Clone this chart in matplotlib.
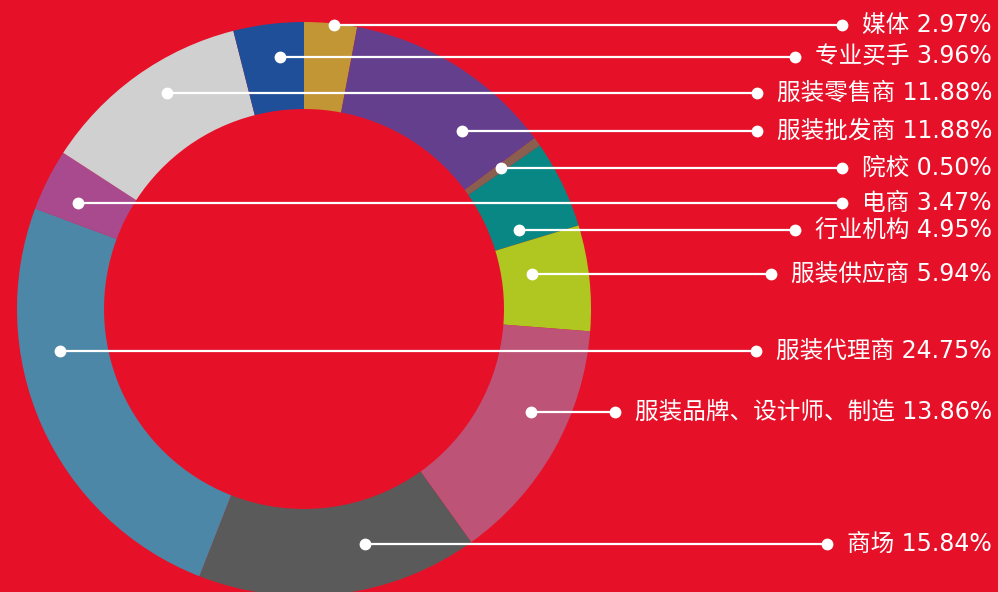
import numpy as np
import matplotlib
matplotlib.use("Agg")
import matplotlib.pyplot as plt

plt.rcParams['font.family'] = ['DejaVu Sans', 'Noto Sans CJK SC']

# data, clockwise from 12 o'clock
names = ["媒体", "服装批发商", "院校", "行业机构", "服装供应商", "服装品牌、设计师、制造",
         "商场", "服装代理商", "电商", "服装零售商", "专业买手"]
values = [2.97, 11.88, 0.50, 4.95, 5.94, 13.86, 15.84, 24.75, 3.47, 11.88, 3.96]
colors = ["#C29535", "#643F8E", "#8A5F50", "#088784", "#AFC720", "#BD5376",
          "#5A5A5A", "#4D87A7", "#A84A8D", "#D0D0D0", "#1F4F98"]

# layout: label row (pixels from top) and dot radius (fraction of outer radius)
label_y = [25, 131, 168, 230, 274, 412, 544, 351, 203, 93, 57]
dot_r = [0.995, 0.829, 0.844, 0.798, 0.804, 0.869, 0.846, 0.863, 0.870, 0.891, 0.882]

W, H = 998, 592
bg = "#E61129"
cx, cy = 304, H - 309
R = 287
ring = 87

fig = plt.figure(figsize=(W / 100, H / 100), dpi=100, facecolor=bg)
ax = fig.add_axes([0, 0, 1, 1])
ax.set_facecolor(bg)

wedges, _ = ax.pie(values, colors=colors, startangle=90, counterclock=False,
                   radius=R, center=(cx, cy),
                   wedgeprops=dict(width=ring, linewidth=0))
ax.set_xlim(0, W)
ax.set_ylim(0, H)
ax.axis("off")

# mid angles to know which side of the centre each dot sits
cum = np.cumsum([0] + values[:-1])
mids = [(c + v / 2) / 100 * 2 * np.pi for c, v in zip(cum, values)]

texts = []
for i, name in enumerate(names):
    y = H - label_y[i]
    t = ax.text(992, y, f"{name} {values[i]:.2f}%", ha="right", va="center",
                color="white", fontsize=17)
    texts.append(t)

fig.canvas.draw()
inv = ax.transData.inverted()
for i in range(len(names)):
    y = H - label_y[i]
    r = dot_r[i] * R
    dy = y - cy
    side = 1 if np.sin(mids[i]) >= 0 else -1
    x0 = cx + side * np.sqrt(max(r * r - dy * dy, 0))
    bb = texts[i].get_window_extent()
    x1 = inv.transform((bb.x0, bb.y0))[0] - 20
    ax.plot([x0, x1], [y, y], color="white", lw=1.6, solid_capstyle="butt")
    ax.plot([x0, x1], [y, y], "o", color="white", ms=8.5, mec="none")

fig.savefig("out.png", dpi=100, facecolor=bg)
